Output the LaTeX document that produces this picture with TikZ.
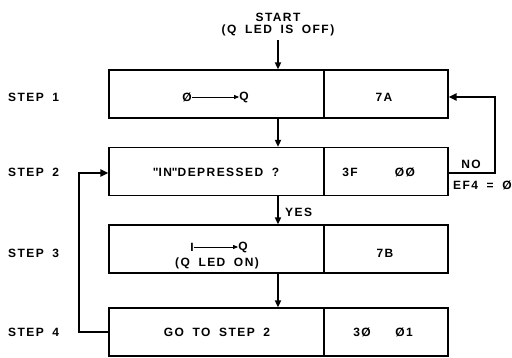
\documentclass[tikz,border=0pt]{standalone}
\usepackage{fontspec}
\setmainfont{Liberation Sans}[LetterSpace=12, WordSpace=1.8]
\usetikzlibrary{arrows.meta}
\begin{document}
\begin{tikzpicture}[x=1pt,y=-1pt,
  lbl/.style={font=\bfseries\fontsize{12}{13}\selectfont, inner sep=0pt},
  boxl/.style={draw, line width=1.2pt, minimum width=215pt, minimum height=48pt, inner sep=0pt},
  boxr/.style={draw, line width=1.2pt, minimum width=124pt, minimum height=48pt, inner sep=0pt},
  conn/.style={line width=1.6pt, -{Triangle[length=7pt,width=6pt]}},
  loop/.style={line width=2pt, -{Triangle[length=8pt,width=7pt]}},
  small/.style={line width=0.8pt, -{Triangle[length=5pt,width=4pt]}}]
\useasboundingbox (0,0) rectangle (512,358);
% boxes
\node[boxl] (b1l) at (216.5,94) {};
\node[boxr] (b1r) at (386,94) {};
\node[boxl] (b2l) at (216.5,171.5) {};
\node[boxr] (b2r) at (386,171.5) {};
\node[boxl] (b3l) at (216.5,249) {};
\node[boxr] (b3r) at (386,249) {};
\node[boxl] (b4l) at (216.5,332) {};
\node[boxr] (b4r) at (386,332) {};
% start
\node[lbl] (start) at (278,17) {START};
\node[lbl] (startb) at (278,30) {(Q LED IS OFF)};
\coordinate (s0) at (278,40);
\draw[conn] (s0) -- (b1l.north -| s0);
% step labels
\node[lbl, anchor=west] (st1) at (8,97) {STEP 1};
\node[lbl, anchor=west] (st2) at (8,172) {STEP 2};
\node[lbl, anchor=west] (st3) at (8,253) {STEP 3};
\node[lbl, anchor=west] (st4) at (8,332) {STEP 4};
% box 1 content
\node[lbl] (z1) at (187,97) {Ø};
\node[lbl] (q1) at (244,97) {Q};
\draw[small] (z1.east) -- (q1.west);
\node[lbl] (t7a) at (384,97) {7A};
% box 2
\node[lbl] (dep) at (216,172) {\textquotedbl IN\textquotedbl DEPRESSED ?};
\node[lbl] (t3f) at (350,172) {3F};
\node[lbl] (t00) at (405,172) {ØØ};
% box 3
\node[lbl] (one) at (192,247) {I};
\node[lbl] (q3) at (243,247) {Q};
\draw[small] (one.east) -- (q3.west);
\node[lbl] (led) at (217,263) {(Q LED ON)};
\node[lbl] (t7b) at (385,253) {7B};
% box 4
\node[lbl] (go) at (217,332) {GO TO STEP 2};
\node[lbl] (t30) at (362,332) {3Ø};
\node[lbl] (t01) at (404,332) {Ø1};
% vertical connectors
\coordinate (cx) at (278,0);
\draw[conn] (b1l.south -| cx) -- (b2l.north -| cx);
\draw[conn] (b2l.south -| cx) -- (b3l.north -| cx);
\draw[conn] (b3l.south -| cx) -- (b4l.north -| cx);
\node[lbl, anchor=west] (yes) at (285,212) {YES};
% NO loop
\coordinate (n1) at (495,173);
\coordinate (n2) at (495,97);
\draw[loop] (b2r.east |- n1) -- (n1) -- (n2) -- (b1r.east |- n2);
\node[lbl] (no) at (471,164) {NO};
\node[lbl, anchor=west] (ef) at (453,185) {EF4 = Ø};
% step 4 loop
\coordinate (m1) at (79,332);
\coordinate (m2) at (79,173);
\draw[loop] (b4l.west |- m1) -- (m1) -- (m2) -- (b2l.west |- m2);
\end{tikzpicture}
\end{document}
